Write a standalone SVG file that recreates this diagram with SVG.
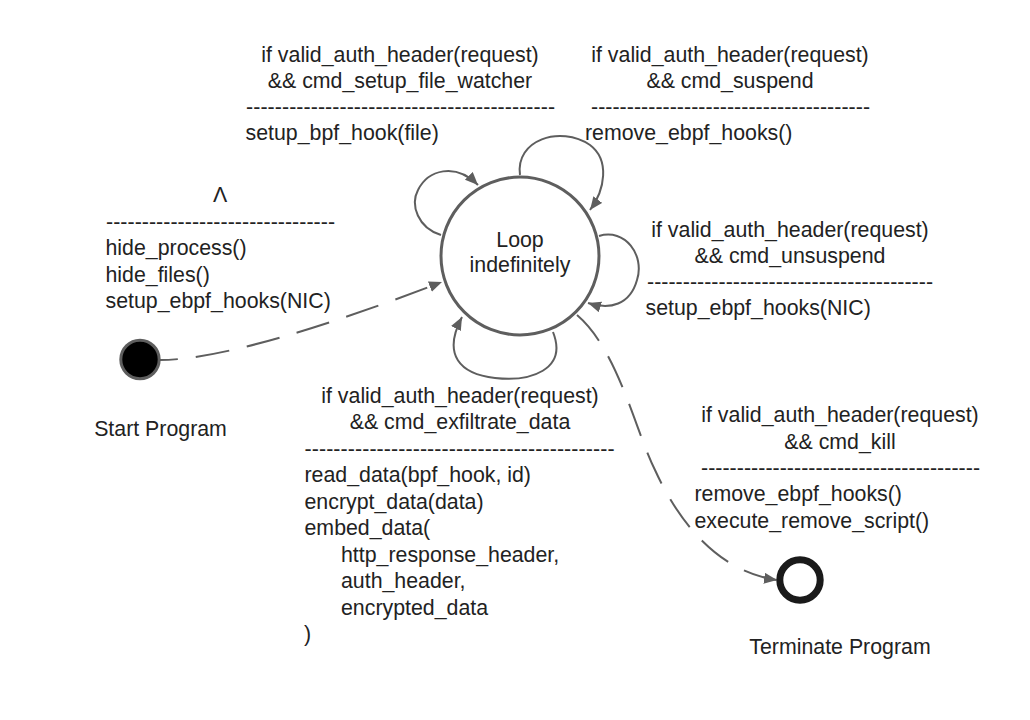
<svg xmlns="http://www.w3.org/2000/svg" width="1030" height="720" viewBox="0 0 1030 720">
<style>
text{font-family:"Liberation Sans",Arial,sans-serif;font-size:21.33px;fill:#222}
.c{text-anchor:middle}
.ln{fill:none;stroke:#5e5e5e;stroke-width:2}
.dash{stroke-dasharray:34 18}
</style>
<defs>
<marker id="ah" markerUnits="userSpaceOnUse" markerWidth="14" markerHeight="12" refX="13" refY="5.5" orient="auto">
<path d="M0,0 L13,5.5 L0,11 z" fill="#5e5e5e"/>
</marker>
</defs>
<rect width="1030" height="720" fill="#fff"/>
<g id="connectors">
<path class="ln dash" stroke-dashoffset="16" d="M160,360 C220,360 330,325 442,282" marker-end="url(#ah)"/>
<path class="ln" d="M441,235 C418,228 410,205 418,190 C428,170 455,162 478,185" marker-end="url(#ah)"/>
<path class="ln" d="M520,175 C515,140 560,125 590,145 C610,160 605,190 590,210" marker-end="url(#ah)"/>
<path class="ln" d="M599,236 C625,228 645,255 637,280 C630,305 610,310 588,303" marker-end="url(#ah)"/>
<path class="ln" d="M553,332 C568,370 530,382 495,378 C460,374 442,355 462,317" marker-end="url(#ah)"/>
<path class="ln dash" d="M577,315 C618,350 635,430 655,470 C680,525 720,572 777,580" marker-end="url(#ah)"/>
</g>
<g id="start">
<circle cx="140" cy="359.5" r="19.2" fill="#000" stroke="#5e5e5e" stroke-width="3"/>
<text class="c" x="160.5" y="435.5">Start Program</text>
</g>
<g id="loop">
<circle cx="520" cy="256" r="79" fill="#fff" stroke="#5e5e5e" stroke-width="3"/>
<text class="c" x="520" y="246.5">Loop</text>
<text class="c" x="520" y="272">indefinitely</text>
</g>
<g id="terminate">
<circle cx="800" cy="580" r="20.2" fill="#fff" stroke="#1a1a1a" stroke-width="7"/>
<text class="c" x="840" y="654">Terminate Program</text>
</g>
<g id="label-init">
<text class="c" x="220" y="202">Λ</text>
<text x="106" y="228.5" textLength="229" lengthAdjust="spacing">--------------------------------</text>
<text x="105.5" y="255">hide_process()</text>
<text x="105.5" y="281.5">hide_files()</text>
<text x="105.5" y="308">setup_ebpf_hooks(NIC)</text>
</g>
<g id="label-file-watcher">
<text class="c" x="400" y="62">if valid_auth_header(request)</text>
<text class="c" x="400" y="88">&amp;&amp; cmd_setup_file_watcher</text>
<text x="246" y="114" textLength="309" lengthAdjust="spacing">-------------------------------------------</text>
<text x="245.5" y="140">setup_bpf_hook(file)</text>
</g>
<g id="label-suspend">
<text class="c" x="730" y="62">if valid_auth_header(request)</text>
<text class="c" x="730" y="88">&amp;&amp; cmd_suspend</text>
<text x="591" y="114" textLength="279" lengthAdjust="spacing">---------------------------------------</text>
<text x="585" y="140">remove_ebpf_hooks()</text>
</g>
<g id="label-unsuspend">
<text class="c" x="790" y="237">if valid_auth_header(request)</text>
<text class="c" x="790" y="263">&amp;&amp; cmd_unsuspend</text>
<text x="647" y="289" textLength="286" lengthAdjust="spacing">----------------------------------------</text>
<text x="645.5" y="315">setup_ebpf_hooks(NIC)</text>
</g>
<g id="label-exfiltrate">
<text class="c" x="460" y="403">if valid_auth_header(request)</text>
<text class="c" x="460" y="429">&amp;&amp; cmd_exfiltrate_data</text>
<text x="304.5" y="455.5" textLength="310" lengthAdjust="spacing">-------------------------------------------</text>
<text x="304.5" y="482">read_data(bpf_hook, id)</text>
<text x="304.5" y="508.5">encrypt_data(data)</text>
<text x="304.5" y="535">embed_data(</text>
<text x="341" y="561.5">http_response_header,</text>
<text x="341" y="588">auth_header,</text>
<text x="341" y="614.5">encrypted_data</text>
<text x="304" y="641">)</text>
</g>
<g id="label-kill">
<text class="c" x="840" y="422">if valid_auth_header(request)</text>
<text class="c" x="840" y="448.5">&amp;&amp; cmd_kill</text>
<text x="701" y="474.5" textLength="279" lengthAdjust="spacing">---------------------------------------</text>
<text x="694.5" y="501">remove_ebpf_hooks()</text>
<text x="694.5" y="527.5">execute_remove_script()</text>
</g>
</svg>
